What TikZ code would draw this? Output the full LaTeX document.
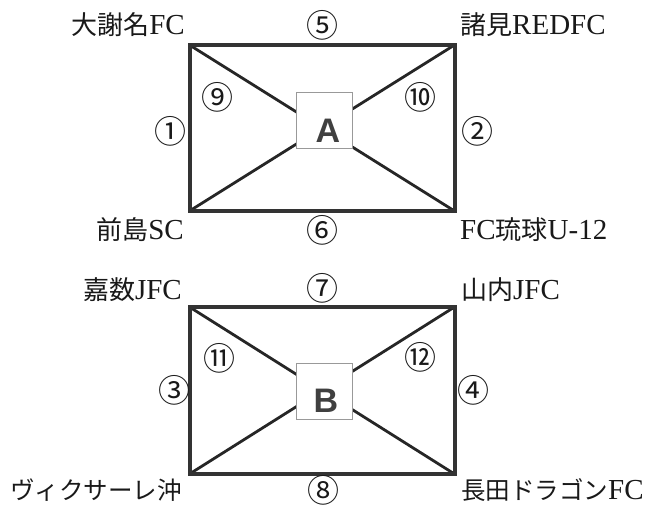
\documentclass[tikz,border=0pt]{standalone}
\usepackage{fontspec}
\setmainfont{Liberation Serif}
\newfontfamily\jp{Noto Sans CJK JP}
\newfontfamily\lsans{Liberation Sans}
\newcommand\jtxt[1]{{\jp\fontsize{26}{26}\selectfont #1}}
\newcommand\jsmall[1]{{\jp\fontsize{24.5}{24.5}\selectfont #1}}
\begin{document}
\begin{tikzpicture}[x=1pt,y=-1pt,
  frame/.style={line width=4pt, draw=black!80},
  diag/.style={line width=2.8pt, draw=black!85},
  centerbox/.style={draw=black!40, line width=0.8pt, fill=white, minimum width=56pt, minimum height=56pt, inner sep=0pt},
  letter/.style={font=\lsans\bfseries\fontsize{34}{34}\selectfont, text=black!75, inner sep=0pt},
  lab/.style={font=\fontsize{29}{29}\selectfont, text=black!90, inner sep=0pt},
  num/.style={font=\jp\fontsize{32}{32}\selectfont, text=black!90, inner sep=0pt}
]
\useasboundingbox (0,0) rectangle (649,505);
% ---------- group A ----------
\coordinate (Atl) at (189.5,45);
\coordinate (Atr) at (454.5,45);
\coordinate (Abl) at (189.5,211);
\coordinate (Abr) at (454.5,211);
\coordinate (Ac) at (322,128);
\draw[diag] (Atl) -- (Ac) -- (Abr);
\draw[diag] (Atr) -- (Ac) -- (Abl);
\draw[frame] (Atl) rectangle (Abr);
\node[centerbox] (boxA) at (324.5,120.5) {};
\node[letter] (letA) at (328,131) {A};
\node[lab, anchor=east] (tA1) at (185,25) {\jtxt{大謝名}FC};
\node[lab, anchor=west] (tA2) at (460,25) {\jtxt{諸見}REDFC};
\node[lab, anchor=east] (tA3) at (184,230) {\jtxt{前島}SC};
\node[lab, anchor=west] (tA4) at (460,230) {FC\jtxt{琉球}U-12};
\node[num] (n5) at (322,25) {⑤};
\node[num] (n6) at (322,230) {⑥};
\node[num] (n1) at (170,131) {①};
\node[num] (n2) at (477,131) {②};
\node[num] (n9) at (217,97) {⑨};
\node[num] (n10) at (420,97) {⑩};
% ---------- group B ----------
\coordinate (Btl) at (189.5,307);
\coordinate (Btr) at (454.5,307);
\coordinate (Bbl) at (189.5,474);
\coordinate (Bbr) at (454.5,474);
\coordinate (Bc) at (322,390.5);
\draw[diag] (Btl) -- (Bc) -- (Bbr);
\draw[diag] (Btr) -- (Bc) -- (Bbl);
\draw[frame] (Btl) rectangle (Bbr);
\node[centerbox] (boxB) at (324,391) {};
\node[letter] (letB) at (326,401) {B};
\node[lab, anchor=east] (tB1) at (182,290) {\jtxt{嘉数}JFC};
\node[lab, anchor=west] (tB2) at (461,290) {\jtxt{山内}JFC};
\node[lab, anchor=east] (tB3) at (182,490) {\jsmall{ヴィクサーレ沖}};
\node[lab, anchor=west] (tB4) at (461,490) {\jsmall{長田ドラゴン}FC};
\node[num] (n7) at (322,288) {⑦};
\node[num] (n8) at (323,490) {⑧};
\node[num] (n3) at (174,390) {③};
\node[num] (n4) at (473,390) {④};
\node[num] (n11) at (219,358) {⑪};
\node[num] (n12) at (420,357) {⑫};
\end{tikzpicture}
\end{document}
